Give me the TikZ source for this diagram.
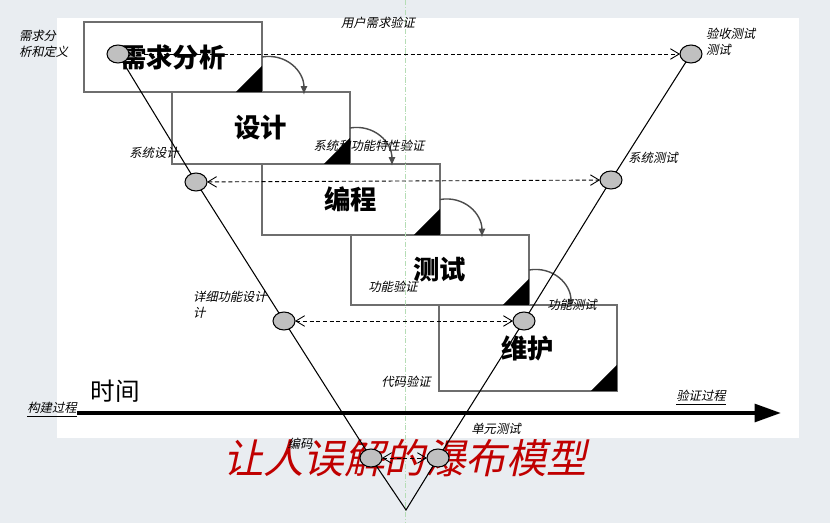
\documentclass[tikz,border=0pt]{standalone}
\usepackage{fontspec}
\usetikzlibrary{arrows.meta,positioning,shapes.geometric}
\newfontfamily\cjk{Noto Sans CJK SC}
\newfontfamily\cjkslant{Noto Sans CJK SC}[FakeSlant=0.22]
\definecolor{pagegrey}{HTML}{E9EDF1}
\definecolor{boxline}{HTML}{6E6E6E}
\definecolor{dotgrey}{HTML}{C0C0C0}
\definecolor{titlered}{HTML}{C00000}
\definecolor{guidegreen}{HTML}{B5DDB5}

\begin{document}
\begin{tikzpicture}[x=0.02cm,y=-0.02cm,
  every node/.style={inner sep=0pt,outer sep=0pt},
  stagebox/.style={draw=boxline,line width=1.1pt,fill=white,anchor=north west,
    minimum width=3.56cm,font=\cjk\bfseries\fontsize{15}{15}\selectfont},
  note/.style={font=\cjkslant\fontsize{7}{9}\selectfont,align=left},
  vdot/.style={ellipse,draw,fill=dotgrey,line width=0.6pt,minimum width=0.44cm,minimum height=0.36cm},
  vline/.style={line width=0.6pt},
  check/.style={line width=0.5pt,dash pattern=on 2.3pt off 1.5pt,
    {Straight Barb[length=5pt,width=6pt]}-{Straight Barb[length=5pt,width=6pt]}},
  handover/.style={draw=black!70,line width=0.8pt,-{Latex[length=5pt,width=4pt]}}]
\useasboundingbox (0,0) rectangle (830,523);
\fill[pagegrey] (0,0) rectangle (830,523);
\fill[white] (57,18) rectangle (799,438);

% stages
\node[stagebox,minimum height=1.40cm] (b1) at (84,22) {需求分析};
\node[stagebox,minimum height=1.44cm] (b2) at (172,92) {设计};
\node[stagebox,minimum height=1.42cm] (b3) at (262,164) {编程};
\node[stagebox,minimum height=1.40cm] (b4) at (351,235) {测试};
\node[stagebox,minimum height=1.72cm] (b5) at (439,305) {维护};
\foreach \b in {b1,b2,b3,b4,b5}
  \fill (\b.south east) -- ++(0,-26) -- ++(-26,26) -- cycle;
\foreach \b in {b1,b2,b3,b4}
  \draw[handover] (\b.east) .. controls +(24,-4) and +(0,-24) .. +(42,38);

\draw[guidegreen,line width=0.4pt,dash pattern=on 3pt off 1pt on 0.5pt off 1pt] (405,0) -- (405,523);

% time axis
\node[font=\cjk\fontsize{14}{14}\selectfont] (time) at (115,391) {时间};
\coordinate (tstart) at (77,413);
\coordinate (tend) at (781,413);
\draw[line width=2.3pt,-{Triangle[length=15pt,width=10pt]}] (tstart) -- (tend);

\node[font=\cjkslant\fontsize{23}{23}\selectfont,text=titlered] (title) at (405,458) {让人误解的瀑布模型};

% V
\node[vdot] (l1) at (118,54) {};
\node[vdot] (l2) at (196,182) {};
\node[vdot] (l3) at (284,321) {};
\node[vdot] (l4) at (371,458) {};
\node[vdot] (r1) at (691,54) {};
\node[vdot] (r2) at (611,180) {};
\node[vdot] (r3) at (524,321) {};
\node[vdot] (r4) at (438,458) {};
\coordinate (vtip) at (406,510);
\draw[vline] (l1) -- (l2) -- (l3) -- (l4) -- (vtip) -- (r4) -- (r3) -- (r2) -- (r1);
\draw[check] (l1) -- (r1);
\draw[check] (l2) -- (r2);
\draw[check] (l3) -- (r3);
\draw[check] (l4) -- (r4);

% notes
\node[note,anchor=west] (n1) at (19,44) {需求分\\析和定义};
\node[note] (n2) at (378,23) {用户需求验证};
\node[note,anchor=west] (n3) at (706,42) {验收测试\\测试};
\node[note] (n4) at (154,153) {系统设计};
\node[note] (n5) at (369,146) {系统和功能特性验证};
\node[note] (n6) at (653,158) {系统测试};
\node[note,anchor=west] (n7) at (193,305) {详细功能设计\\计};
\node[note] (n8) at (393,287) {功能验证};
\node[note] (n9) at (572,305) {功能测试};
\node[note] (n10) at (406,382) {代码验证};
\node[note] (n11) at (52,410) {\underline{构建过程}};
\node[note] (n12) at (701,398) {\underline{验证过程}};
\node[note] (n13) at (496,429) {单元测试};
\node[note] (n14) at (300,444) {编码};
\end{tikzpicture}
\end{document}
